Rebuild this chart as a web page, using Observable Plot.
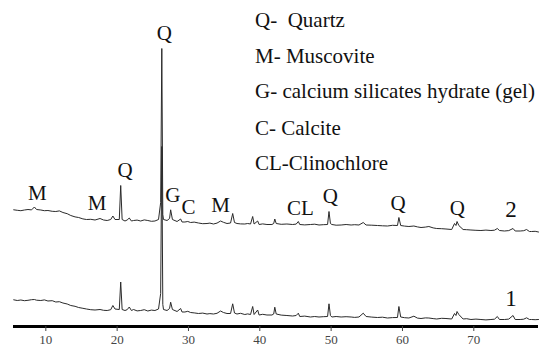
<!DOCTYPE html>
<html><head><meta charset="utf-8">
<script src="https://cdn.jsdelivr.net/npm/d3@7"></script>
<script src="https://cdn.jsdelivr.net/npm/@observablehq/plot@0.6"></script>
<style>
body{margin:0;background:#fff;}
#wrap{position:relative;width:550px;height:357px;}
#legend{position:absolute;left:0;top:0;font-family:"Liberation Serif","Times New Roman",serif;font-size:21px;color:#111;}
#legend div{position:absolute;white-space:pre;line-height:21px;}
</style></head><body>
<div id="wrap"><div id="chart"></div><div id="legend"></div></div>
<script>
// 2θ positions (degrees) shared by both patterns
const twoTheta = [
  5.5,6.0,6.5,7.0,7.5,8.0,8.4,8.7,9.3,9.8,
  10.3,10.9,11.4,11.9,12.4,13.0,13.5,14.1,14.6,15.2,
  15.7,16.3,16.9,17.6,18.1,18.6,19.1,19.4,19.7,20.3,
  20.5,20.7,21.1,21.4,21.7,22.0,22.3,22.8,23.3,23.8,
  24.3,24.8,25.3,25.8,26.1,26.26,26.4,26.5,27.0,27.35,
  27.5,27.75,28.4,28.9,29.1,29.5,29.9,30.3,30.8,31.4,
  32.0,32.6,33.0,33.5,34.0,34.5,34.9,35.4,35.9,36.2,
  36.45,36.8,37.3,37.9,38.3,38.7,39.0,39.2,39.7,39.9,
  40.4,41.0,41.7,41.95,42.1,42.3,43.0,43.8,44.6,45.1,
  45.4,45.6,46.3,47.1,47.7,48.3,48.9,49.5,49.7,49.9,
  50.1,50.7,51.4,52.1,52.8,53.3,53.9,54.5,54.9,55.7,
  56.5,57.2,57.9,58.6,59.3,59.5,59.75,60.3,60.9,61.6,
  62.1,62.6,63.2,63.7,64.3,64.8,65.5,66.1,66.9,67.3,
  67.5,67.65,67.9,68.5,69.0,69.6,70.3,71.0,71.7,72.4,
  72.9,73.3,73.6,74.3,74.9,75.5,75.8,76.5,77.0,77.4,
  77.8,78.1,78.6,79.07];
// pattern 1 intensities (a.u.)
const pattern1 = [
  26.7,26.0,26.5,25.8,26.2,26.8,27,26.3,26,26.6,
  25.5,25.8,24.5,24.8,23.5,22.5,21,20.2,19,18.2,
  17.5,16.8,16.5,17,16.2,16,16.8,21,17.5,17,
  44.5,17,16,16.8,19.5,16,17,15.6,16,16.8,
  15.5,16.4,16,17.5,33,180,22,17,16,18,
  24.3,17,15,18,14.5,14.5,15.2,14,13.6,13,
  13.4,12.5,12.9,12.5,13.2,15.5,14,13,13,22.7,
  13.5,12.5,13.2,12,12.6,12,20,12,16.5,11.5,
  12.2,11.5,11.5,12.5,19.3,12.5,11.4,11,10.5,11,
  13.3,10,10.4,9.5,10,9.5,9.8,10,22.7,11,
  9.5,10,9.5,9.8,9.5,9.1,9.5,13.3,10,9.4,
  9,9.3,8.5,8.9,9,20,9.5,8.8,8.5,10.3,
  8.4,8,8.6,8.5,7.9,7.5,8.2,8,7.5,13,
  11,15,12,7.5,7.8,7,7.4,7,6.6,7,
  7.3,10,7,7,7.4,11,7,7,7.3,8.7,
  7,7,6.8,7];
// pattern 2 intensities (a.u.)
const pattern2 = [
  26.7,26.2,25.8,26.5,27,26.6,29.5,27,26.5,25.8,
  26,25.2,25,25.6,24,22.8,21,19.6,19,17.6,
  17,17.2,16.5,18,16.5,16,17,20.5,17,17,
  51,17,15.5,16.5,18.5,15.5,16,16.4,15.5,16.6,
  16,15.2,15.5,17,34,188,22,17,16,18,
  26.7,17,15,17.5,14.5,14.5,15,14,14.4,13.5,
  12.8,13,13.4,12.5,13.4,15.5,14.2,13,13.5,23,
  14,13,12.6,12.5,13,12.5,20,12.5,15.5,12,
  12.6,12,12,13,17.5,13,12.2,12.5,12,12.4,
  15,12,11.6,12,12.3,11.5,11.8,12,25,13,
  12,11.3,11.5,12,11.5,11.8,11.5,14,11.5,11.3,
  11,10.7,10.5,11.2,11,19,11,10.4,10,10.5,
  9.6,9,9.4,10,8.6,8,7.8,7.5,7,13,
  11,15,11,7,6.8,6.5,6.2,6,6.4,6,
  6.3,8,6,5.5,5.9,8,5.5,5.5,5.8,7,
  5,5,5.2,4.5];
const seriesNames = ["1", "2"];
const seriesOffset = [0, 90];
const xTicks = [10, 20, 30, 40, 50, 60, 70];

// phase annotations
const peakText  = ["M","M","Q","Q","G","C","M","CL","Q","Q","Q"];
const peakTheta = [8.8,17.2,21.1,26.6,27.8,30.0,34.5,45.7,49.9,59.4,67.7];
const peakLevel = [133,123,156,293,131,119,121,118,130,123,118];
const seriesLabelTheta = 75.2;
const seriesLabelLevel = [27.7, 116.7];

const legendLines = ["Q-  Quartz","M- Muscovite","G- calcium silicates hydrate (gel)","C- Calcite","CL-Clinochlore"];

const rows = [];
seriesNames.forEach((s, k) => {
  const vals = k === 0 ? pattern1 : pattern2;
  twoTheta.forEach((t, i) => rows.push({t, v: vals[i] + seriesOffset[k], s}));
});
const annotations = peakText.map((text, i) => ({text, t: peakTheta[i], v: peakLevel[i]}));
const seriesLabels = seriesNames.map((s, k) => ({text: s, t: seriesLabelTheta, v: seriesLabelLevel[k]}));

const chart = Plot.plot({
  width: 550, height: 357,
  marginLeft: 13, marginRight: 12, marginTop: 26, marginBottom: 31,
  x: {domain: [5.47, 79.07]},
  y: {domain: [0, 300], axis: null},
  style: {fontFamily: "'Liberation Serif', 'Times New Roman', serif", background: "white"},
  marks: [
    Plot.line(rows, {x: "t", y: "v", z: "s", stroke: "#2a2a2a", strokeWidth: 1}),
    Plot.ruleY([0], {stroke: "#000", strokeWidth: 3}),
    Plot.axisX({ticks: xTicks, tickFormat: d => String(d), tickSize: 5, tickPadding: 3, fontSize: 13, color: "#444", label: null}),
    Plot.text(annotations, {x: "t", y: "v", text: "text", fontSize: 21, fill: "#111"}),
    Plot.text(seriesLabels, {x: "t", y: "v", text: "text", fontSize: 23, fill: "#111"})
  ]
});
document.getElementById("chart").appendChild(chart);

const legendCenters = [20.3, 56.3, 92, 128.5, 164];
const leg = document.getElementById("legend");
legendLines.forEach((line, i) => {
  const d = document.createElement("div");
  d.textContent = line;
  d.style.left = "255px";
  d.style.top = (legendCenters[i] - 10.6) + "px";
  leg.appendChild(d);
});
</script>
</body></html>
